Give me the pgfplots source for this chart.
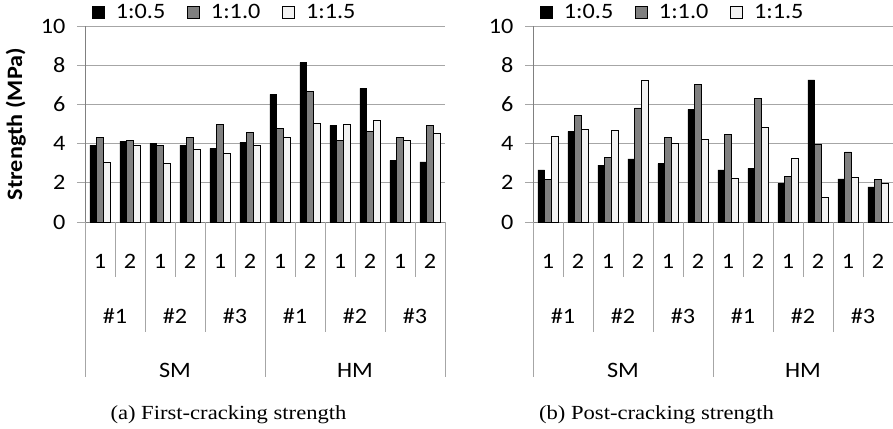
\documentclass[border=0pt]{standalone}
\usepackage{fontspec}
\setmainfont{Carlito}[FakeStretch=1.1]
\newfontfamily\capfont{Liberation Serif}[FakeStretch=1.13]
\usepackage{pgfplots}
\pgfplotsset{compat=1.18}
\usepackage{pgfplotstable}
\definecolor{bargray}{HTML}{808080}
\definecolor{barwhite}{HTML}{F2F2F2}
\definecolor{gridgray}{HTML}{A6A6A6}
\definecolor{sepgray}{HTML}{A6A6A6}
\newcommand\lbl{\fontsize{22}{26}\selectfont}

\pgfplotstableread{
x a b c
1 3.93 4.31 3.05
2 4.12 4.17 3.90
3 4.00 3.93 2.98
4 3.93 4.34 3.71
5 3.76 4.99 3.52
6 4.07 4.58 3.90
7 6.52 4.80 4.33
8 8.14 6.68 5.04
9 4.94 4.15 4.99
10 6.83 4.63 5.21
11 3.15 4.33 4.17
12 3.07 4.94 4.53
}\firstcrack

\pgfplotstableread{
x a b c
1 2.66 2.18 4.39
2 4.63 5.45 4.75
3 2.90 3.31 4.68
4 3.22 5.83 7.24
5 2.98 4.33 4.02
6 5.76 7.04 4.22
7 2.66 4.48 2.25
8 2.74 6.32 4.85
9 1.96 2.35 3.25
10 7.26 3.99 1.24
11 2.20 3.58 2.28
12 1.79 2.18 1.99
}\postcrack

\pgfplotsset{
 strengthaxis/.style={
  scale only axis, width=360pt, height=195.7pt,
  anchor=south west,
  xmin=0.5, xmax=12.5, ymin=0, ymax=10,
  ybar=0pt, bar width=6.7pt,
  axis x line*=bottom, axis y line*=left,
  axis line style={draw=gray, -},
  tick align=outside, major tick length=8pt,
  xtick={1,...,12}, xticklabels={1,2,1,2,1,2,1,2,1,2,1,2},
  x tick style={draw=none},
  ytick={0,2,...,10}, y tick style={draw=gridgray, line width=0.8pt},
  ymajorgrids, grid style={draw=gridgray, line width=0.8pt},
  tick label style={font=\lbl},
  /pgf/number format/assume math mode=true,
  yticklabel style={anchor=east, xshift=-8pt},
  xticklabel style={anchor=center, yshift=-31pt},
  clip=false,
  legend columns=3,
  legend style={draw=none, fill=none, font=\lbl,
    at={(axis description cs:0,1)}, anchor=west, xshift=4pt, yshift=14pt,
    /tikz/every odd column/.append style={column sep=9pt},
    /tikz/every even column/.append style={column sep=20pt}},
  legend image code/.code={\draw[#1, draw=black, line width=0.7pt] (0pt,-6pt) rectangle (12pt,6pt);},
  every axis plot/.append style={draw=black, line width=0.7pt},
 },
}

\newcommand\categorylines{%
  \pgfplotsinvokeforeach{1.5,3.5,5.5,7.5,9.5,11.5}{\draw[sepgray, line width=0.8pt] (axis cs:##1,0) -- ++(0pt,-55pt);}%
  \pgfplotsinvokeforeach{2.5,4.5,8.5,10.5}{\draw[sepgray, line width=0.8pt] (axis cs:##1,0) -- ++(0pt,-110pt);}%
  \pgfplotsinvokeforeach{0.5,6.5,12.5}{\draw[sepgray, line width=0.8pt] (axis cs:##1,0) -- ++(0pt,-155pt);}%
  \node[font=\lbl] at (axis cs:1.5,0) [yshift=-94pt] {\#1};
  \node[font=\lbl] at (axis cs:3.5,0) [yshift=-94pt] {\#2};
  \node[font=\lbl] at (axis cs:5.5,0) [yshift=-94pt] {\#3};
  \node[font=\lbl] at (axis cs:7.5,0) [yshift=-94pt] {\#1};
  \node[font=\lbl] at (axis cs:9.5,0) [yshift=-94pt] {\#2};
  \node[font=\lbl] at (axis cs:11.5,0) [yshift=-94pt] {\#3};
  \node[font=\lbl] at (axis cs:3.5,0) [yshift=-148pt] {SM};
  \node[font=\lbl] at (axis cs:9.5,0) [yshift=-148pt] {HM};
}

\begin{document}
\begin{tikzpicture}
\path[use as bounding box] (0pt,0pt) rectangle (893pt,428pt);
\begin{axis}[strengthaxis, at={(85pt,206pt)},
  ylabel={\bfseries Strength (MPa)},
  ylabel style={font=\lbl, at={(axis description cs:-0.192,0.5)}, anchor=center}]
\addplot[fill=black] table[x=x, y=a] {\firstcrack};
\addplot[fill=bargray] table[x=x, y=b] {\firstcrack};
\addplot[fill=barwhite] table[x=x, y=c] {\firstcrack};
\legend{1:0.5,1:1.0,1:1.5}
\categorylines
\end{axis}
\begin{axis}[strengthaxis, at={(533pt,206pt)}]
\addplot[fill=black] table[x=x, y=a] {\postcrack};
\addplot[fill=bargray] table[x=x, y=b] {\postcrack};
\addplot[fill=barwhite] table[x=x, y=c] {\postcrack};
\legend{1:0.5,1:1.0,1:1.5}
\categorylines
\end{axis}
\node[font=\capfont\fontsize{20}{24}\selectfont] at (228.5pt,13pt) {(a) First-cracking strength};
\node[font=\capfont\fontsize{20}{24}\selectfont] at (656.5pt,13pt) {(b) Post-cracking strength};
\end{tikzpicture}
\end{document}
